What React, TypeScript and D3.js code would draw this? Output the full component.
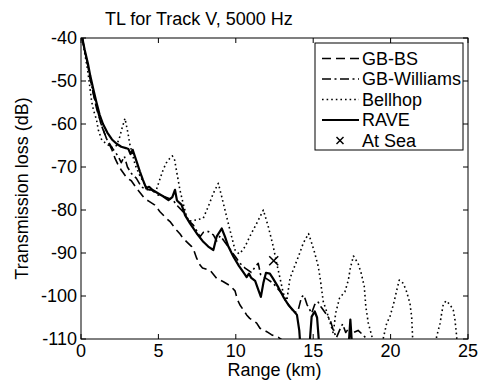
import React from "react";
import * as d3 from "d3";

type Pt = [number, number];

const xTicks = [0, 5, 10, 15, 20, 25];
const yTicks = [-40, -50, -60, -70, -80, -90, -100, -110];

const seriesNames = ["GB-BS", "GB-Williams", "Bellhop", "RAVE", "At Sea"];

const gbBs: Pt[] = [
  [0.04, -36], [0.1, -40.5], [0.24, -43], [0.45, -46.5], [0.6, -49.5], [0.8, -53],
  [1.0, -56.3], [1.3, -60], [1.66, -63.5], [2.0, -66], [2.2, -68], [2.4, -69.5],
  [2.6, -70.7], [2.95, -72.5], [3.25, -73.2], [3.6, -75], [4.1, -77.3], [4.4, -78],
  [4.75, -78.8], [5.1, -80.4], [5.5, -81.9], [5.75, -82.7], [6.18, -84.7], [6.4, -85.6],
  [6.6, -86.6], [6.83, -87.4], [7.15, -88.5], [7.3, -89.5], [7.47, -91.2], [7.69, -92.8],
  [7.85, -93.5], [8.33, -94], [8.76, -95.9], [9.2, -96.7], [9.63, -97.6], [9.95, -98.8],
  [10.1, -100.8], [10.27, -102.1], [10.5, -103.3], [10.7, -104.4], [10.9, -105.2],
  [11.35, -106.3], [11.56, -107.5], [12.0, -108.3], [12.3, -109], [12.75, -109.6],
  [13.1, -110.5], [13.5, -111.5],
];

const gbWilliams: Pt[] = [
  [0.04, -36], [0.1, -40.3], [0.24, -43], [0.45, -46.5], [0.6, -49.5], [0.8, -53],
  [1.0, -56], [1.34, -60.5], [1.66, -63.5], [2.0, -65.5], [2.2, -66.5], [2.4, -67.5],
  [2.6, -69], [2.8, -67.5], [3.0, -70], [3.25, -71.5], [3.57, -72.6], [3.9, -74.6],
  [4.22, -75.3], [4.54, -75.3], [4.97, -76.5], [5.4, -76.9], [5.94, -77.7], [6.27, -79.2],
  [6.7, -80.8], [6.9, -82.3], [7.26, -83.5], [7.5, -85], [7.69, -86.2], [7.9, -85.2],
  [8.22, -85], [8.55, -85.8], [8.76, -87.2], [9.0, -86], [9.3, -87.5], [9.7, -89.5],
  [10.0, -91], [10.3, -92.5], [10.6, -93.5], [11.0, -94.5], [11.3, -93], [11.45, -92.4],
  [11.6, -95], [12.0, -96], [12.4, -97], [12.75, -98.5], [13.0, -99.5], [13.2, -101],
  [13.5, -102.5], [13.8, -104], [14.05, -103], [14.25, -100.2], [14.4, -99.8], [14.6, -102],
  [14.9, -104], [15.1, -102], [15.3, -101.3], [15.5, -102.5], [15.8, -104], [16.1, -105.6],
  [16.3, -108], [16.5, -109.7], [16.7, -108], [16.9, -106.5], [17.1, -108.5], [17.3, -107.5],
  [17.6, -108.5], [17.9, -108], [18.2, -109], [18.6, -110.5], [19.0, -112],
];

const bellhop: Pt[] = [
  [0.04, -36], [0.1, -40.5], [0.24, -43.5], [0.45, -48], [0.69, -54.8], [0.8, -56.7],
  [1.0, -59], [1.12, -61.4], [1.34, -63.7], [1.6, -64.5], [2.0, -65.5], [2.3, -65],
  [2.5, -63], [2.65, -61], [2.84, -58.7], [3.04, -62.2], [3.14, -64.5], [3.25, -66],
  [3.5, -69.5], [3.8, -72], [4.2, -74.5], [4.6, -75.8], [4.87, -75.3], [5.08, -73],
  [5.3, -70.7], [5.5, -69.1], [5.73, -68], [5.9, -67.4], [6.05, -68.4], [6.2, -71.5],
  [6.4, -75.5], [6.6, -78.5], [6.83, -81.6], [7.0, -82.6], [7.47, -82.3], [7.9, -81.9],
  [8.22, -79.2], [8.55, -76.1], [8.87, -73.8], [9.09, -76.9], [9.41, -81.6], [9.73, -86.2],
  [9.95, -89.3], [10.2, -90.2], [10.4, -89.5], [10.6, -88.5], [10.9, -86.2], [11.35, -83.1],
  [11.78, -80], [12.1, -83.9], [12.42, -88.5], [12.64, -92.4], [12.86, -95.9], [13.07, -99.4],
  [13.3, -101], [13.5, -95.9], [13.7, -94], [14.04, -90.9], [14.36, -87.7], [14.7, -85.5],
  [14.9, -87.7], [15.1, -90], [15.33, -93.2], [15.45, -95.9], [15.55, -98.6], [15.65, -101.3],
  [15.87, -103.6], [16.1, -106.3], [16.3, -108.7], [16.45, -104], [16.7, -100.5], [17.05, -99],
  [17.27, -96.3], [17.4, -93.5], [17.6, -90.7], [17.9, -92.4], [18.1, -94.7], [18.3, -97.8],
  [18.4, -102.5], [18.56, -106.3], [18.8, -109.5], [18.95, -113], [19.3, -114], [19.45, -111],
  [19.55, -109.5], [19.75, -106.3], [19.96, -104.8], [20.2, -101.7], [20.4, -98.6], [20.56, -96.3],
  [20.8, -97], [21.0, -98.6], [21.25, -101.7], [21.36, -104.8], [21.42, -109.5], [21.5, -115],
  [22.9, -115], [22.97, -109.5], [23.2, -106.3], [23.3, -104], [23.4, -102], [23.58, -101.1],
  [23.84, -102], [24.05, -103.3], [24.16, -105.6], [24.27, -109.5], [24.35, -114],
];

const rave: Pt[] = [
  [0.04, -36], [0.1, -40.3], [0.24, -42.8], [0.45, -46], [0.6, -48.8], [0.8, -52],
  [1.0, -55], [1.2, -57.8], [1.42, -60], [1.7, -62], [2.0, -63.6], [2.3, -64.6],
  [2.6, -65.3], [2.9, -65.6], [3.06, -65.8], [3.2, -67], [3.34, -66], [3.6, -68.8],
  [3.8, -71], [4.0, -73], [4.22, -75], [4.4, -74.6], [4.6, -75.3], [4.97, -76.1],
  [5.3, -76.8], [5.65, -77.7], [5.9, -77], [6.07, -75.3], [6.2, -77.8], [6.5, -78.8],
  [6.72, -81.2], [7.04, -83.1], [7.47, -85.4], [7.9, -87.4], [8.22, -88.5], [8.55, -89.3],
  [8.76, -86.2], [9.09, -84.3], [9.3, -86.2], [9.52, -88.5], [9.84, -90.8], [10.2, -93],
  [10.55, -94.8], [10.7, -95.6], [10.85, -94.8], [11.0, -95.8], [11.25, -96.5], [11.45, -98.5],
  [11.62, -100.2], [11.78, -97], [11.95, -94.6], [12.2, -94.8], [12.4, -95.9], [12.75, -98],
  [13.07, -100.2], [13.4, -102.1], [13.7, -103.3], [13.95, -104.4], [14.1, -108], [14.2, -113],
  [14.5, -116], [14.75, -112], [14.9, -104.8], [15.1, -103.6], [15.25, -105], [15.4, -112],
  [15.6, -117], [17.1, -117], [17.3, -111], [17.4, -105.5], [17.5, -111], [17.7, -117],
];

const atSea: Pt[] = [[12.45, -91.8]];

const W = 484;
const H = 383;
const M = { left: 81, right: 468, top: 38, bottom: 339 };
const FONT = "'Liberation Sans', Arial, Helvetica, sans-serif";
const FS = 18;

export default function App() {
  const x = d3.scaleLinear().domain([0, 25]).range([M.left, M.right]);
  const y = d3.scaleLinear().domain([-110, -40]).range([M.bottom, M.top]);
  const line = d3
    .line<Pt>()
    .x((d) => x(d[0]))
    .y((d) => y(d[1]));

  const styles = [
    { data: gbBs, dash: "9,5", width: 1.6 },
    { data: gbWilliams, dash: "9,3.5,2,3.5", width: 1.6 },
    { data: bellhop, dash: "1.6,3", width: 1.6 },
    { data: rave, dash: "none", width: 2.2 },
  ];

  const legX0 = 315;
  const legY0 = 43;
  const legRowY = (i: number) => 58.5 + i * 20.5;

  const xMark = (cx: number, cy: number, r: number, key: string) => (
    <g key={key} stroke="#000" strokeWidth={1.5}>
      <line x1={cx - r} y1={cy - r} x2={cx + r} y2={cy + r} />
      <line x1={cx - r} y1={cy + r} x2={cx + r} y2={cy - r} />
    </g>
  );

  return (
    <svg width={W} height={H} style={{ position: "absolute", left: 0, top: 0, background: "#fff" }}
      fontFamily={FONT}>
      <rect x={0} y={0} width={W} height={H} fill="#fff" />
      <defs>
        <clipPath id="plotClip">
          <rect x={M.left} y={M.top} width={M.right - M.left} height={M.bottom - M.top} />
        </clipPath>
      </defs>

      <text x={105} y={25} fontSize={FS} fill="#000">TL for Track V, 5000 Hz</text>

      <g clipPath="url(#plotClip)">
        {styles.map((s, i) => (
          <path key={i} d={line(s.data) || ""} fill="none" stroke="#000"
            strokeWidth={s.width} strokeDasharray={s.dash} strokeLinejoin="round" />
        ))}
        {atSea.map((d, i) => xMark(x(d[0]), y(d[1]), 4.5, "sea" + i))}
      </g>

      {/* ticks */}
      <g stroke="#000" strokeWidth={1}>
        {xTicks.map((t) => (
          <g key={"xt" + t}>
            <line x1={x(t)} x2={x(t)} y1={M.bottom} y2={M.bottom - 5} />
            <line x1={x(t)} x2={x(t)} y1={M.top} y2={M.top + 5} />
          </g>
        ))}
        {yTicks.map((t) => (
          <g key={"yt" + t}>
            <line x1={M.left} x2={M.left + 5} y1={y(t)} y2={y(t)} />
            <line x1={M.right} x2={M.right - 5} y1={y(t)} y2={y(t)} />
          </g>
        ))}
      </g>
      <rect x={M.left} y={M.top} width={M.right - M.left} height={M.bottom - M.top}
        fill="none" stroke="#000" strokeWidth={1} />

      {xTicks.map((t) => (
        <text key={"xl" + t} x={x(t)} y={357} fontSize={FS} textAnchor="middle" fill="#000">{t}</text>
      ))}
      {yTicks.map((t) => (
        <text key={"yl" + t} x={77} y={y(t)} dy="0.36em" fontSize={FS} textAnchor="end" fill="#000">{t}</text>
      ))}

      <text x={(M.left + M.right) / 2} y={376} fontSize={FS} textAnchor="middle" fill="#000">Range (km)</text>
      <text transform={`translate(28, ${(M.top + M.bottom) / 2}) rotate(-90)`} fontSize={FS}
        textAnchor="middle" fill="#000">Transmission loss (dB)</text>

      {/* legend */}
      <rect x={legX0} y={legY0} width={463 - legX0} height={150 - legY0} fill="#fff" stroke="#000" strokeWidth={1} />
      {styles.map((s, i) => (
        <line key={"ll" + i} x1={322} x2={359} y1={legRowY(i)} y2={legRowY(i)} stroke="#000"
          strokeWidth={s.width} strokeDasharray={s.dash} />
      ))}
      {xMark(340, legRowY(4), 3.5, "legx")}
      {seriesNames.map((n, i) => (
        <text key={"lt" + i} x={362} y={legRowY(i)} dy="0.36em" fontSize={FS} fill="#000">{n}</text>
      ))}
    </svg>
  );
}
